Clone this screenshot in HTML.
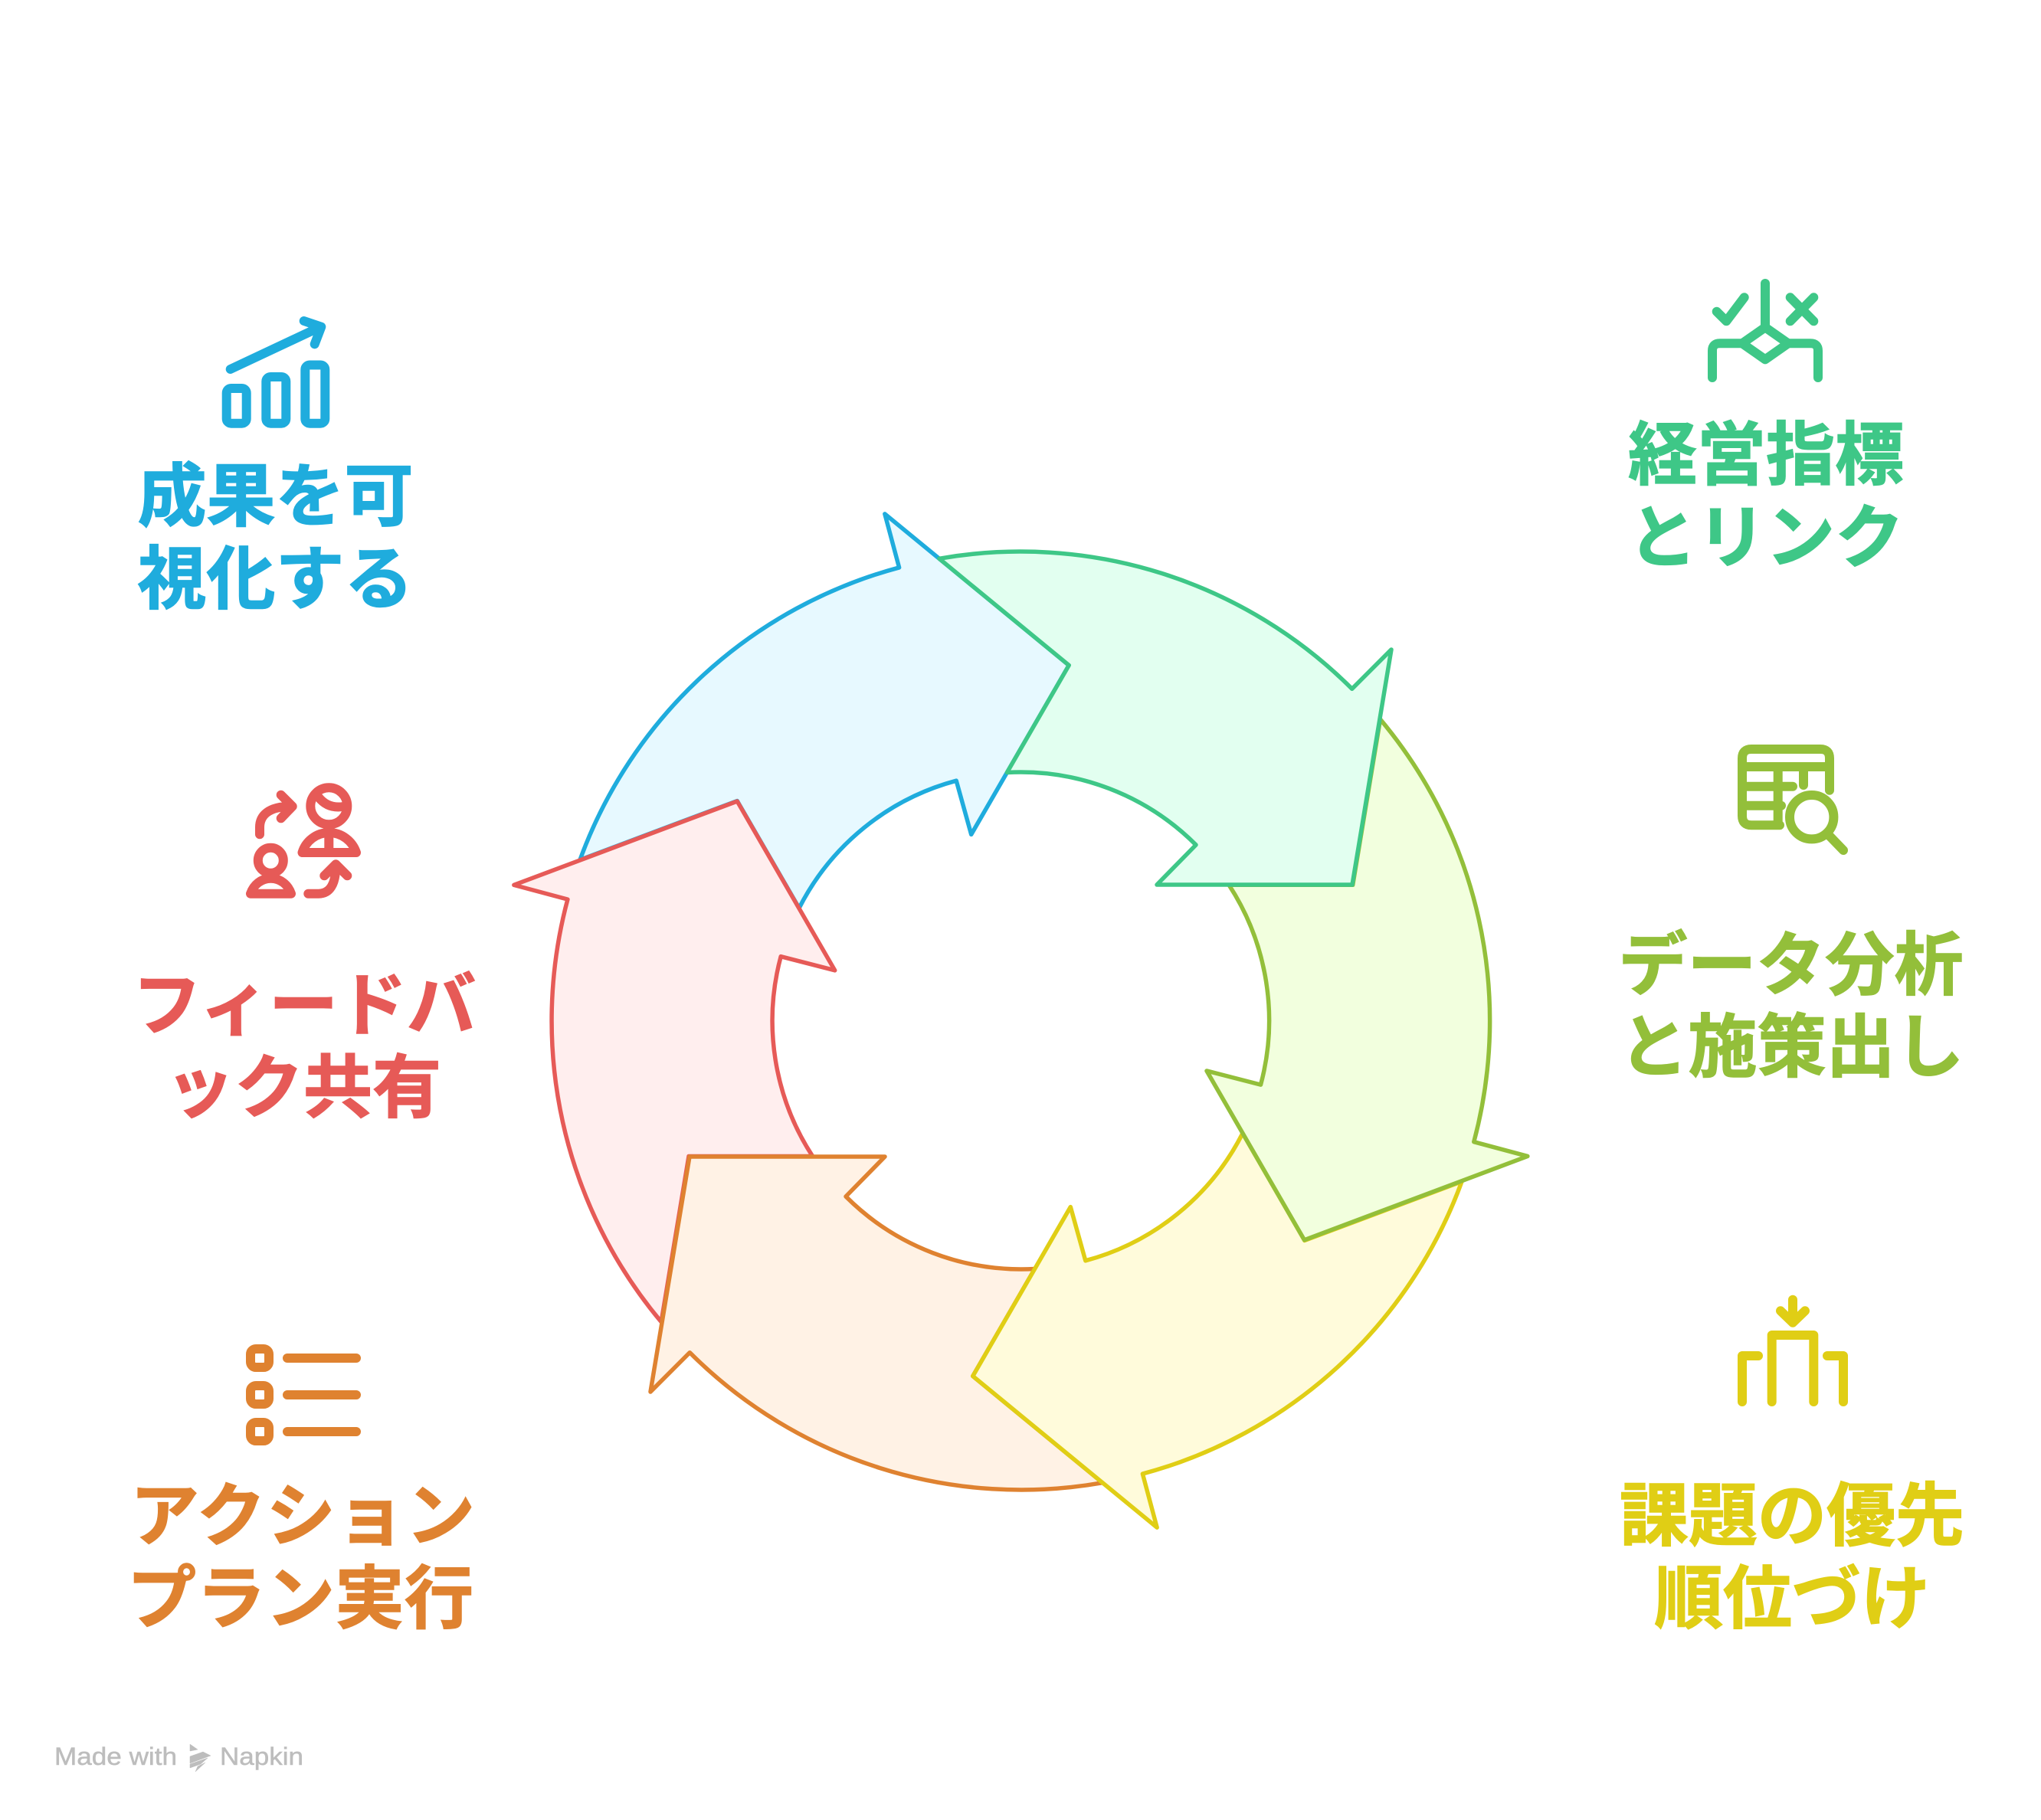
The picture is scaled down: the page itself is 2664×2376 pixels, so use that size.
<!DOCTYPE html>
<html lang="ja">
<head>
<meta charset="utf-8">
<title>Cycle diagram</title>
<style>
html,body{margin:0;padding:0;background:#fff;width:2664px;height:2376px;overflow:hidden}
svg{display:block}
.t{font-family:"Liberation Sans","Noto Sans CJK JP",sans-serif;font-weight:700;font-size:90px;text-anchor:middle;stroke-width:1.4;stroke-linejoin:miter}
.i{fill:none;stroke-width:12;stroke-linecap:round;stroke-linejoin:round}
.a{stroke-width:5.5;stroke-linejoin:round}
</style>
</head>
<body>
<svg xmlns="http://www.w3.org/2000/svg" width="2664" height="2376" viewBox="0 0 2664 2376">
<rect width="2664" height="2376" fill="#fff"/>

<!-- arrows, bottom to top -->
<path class="a" transform="rotate(300 1332 1332)" fill="#E7F9FF" stroke="#1FACDD" d="M1225.9 729.3A612 612 0 0 1 1764.7 899.3L1816 848L1765 1155L1510 1155L1561 1103A324 324 0 0 0 1314.4 1008.5L1395.2 868.5Z"/>
<path class="a" transform="translate(0 0.5) rotate(240 1332 1332)" fill="#FFEEEE" stroke="#E65A57" d="M1225.9 729.3A612 612 0 0 1 1764.7 899.3L1816 848L1765 1155L1510 1155L1561 1103A324 324 0 0 0 1314.4 1008.5L1395.2 868.5Z"/>
<path class="a" transform="translate(1 1) rotate(180 1332 1332)" fill="#FFF2E5" stroke="#DF8230" d="M1225.9 729.3A612 612 0 0 1 1764.7 899.3L1816 848L1765 1155L1510 1155L1561 1103A324 324 0 0 0 1314.4 1008.5L1395.2 868.5Z"/>
<path class="a" transform="translate(1 1) rotate(120 1332 1332)" fill="#FFFBDB" stroke="#E0CE15" d="M1225.9 729.3A612 612 0 0 1 1764.7 899.3L1816 848L1765 1155L1510 1155L1561 1103A324 324 0 0 0 1314.4 1008.5L1395.2 868.5Z"/>
<path class="a" transform="translate(0.7 0.3) rotate(60 1332 1332)" fill="#F2FFDE" stroke="#93BF3A" d="M1225.9 729.3A612 612 0 0 1 1764.7 899.3L1816 848L1765 1155L1510 1155L1561 1103A324 324 0 0 0 1314.4 1008.5L1395.2 868.5Z"/>
<path class="a" fill="#E2FFF0" stroke="#3EC787" d="M1225.9 729.3A612 612 0 0 1 1764.7 899.3L1816 848L1765 1155L1510 1155L1561 1103A324 324 0 0 0 1314.4 1008.5L1395.2 868.5Z"/>

<!-- green -->
<g class="i" stroke="#3EC787">
<path d="M2304 370V427"/>
<path d="M2240.7 406.7L2253.3 419.3L2276.7 388.3"/>
<path d="M2336.7 388.3L2367.3 419.3M2367.3 388.3L2336.7 419.3"/>
<path d="M2274 448.3L2304 427.3L2334 448.3L2304 469.3Z"/>
<path d="M2274 448.3H2245Q2235 448.3 2235 458V493"/>
<path d="M2334 448.3H2363Q2373 448.3 2373 458V493"/>
</g>
<text class="t" fill="#3EC787" stroke="#3EC787" x="2305" y="625">経営指標</text>
<text class="t" fill="#3EC787" stroke="#3EC787" x="2305" y="733">とリンク</text>

<!-- lime -->
<g class="i" stroke="#93BF3A">
<path d="M2388 1031.7V990Q2388 978 2376 978H2286Q2274 978 2274 990V1065Q2274 1077.3 2286 1077.3H2323"/>
<path d="M2274 1001H2388M2274 1026.7H2340M2274 1051.7H2325M2320.7 1001V1077M2354 1001V1025"/>
<circle cx="2364.7" cy="1066.7" r="28.7"/>
<path d="M2388.3 1091.7L2406 1110"/>
</g>
<text class="t" fill="#93BF3A" stroke="#93BF3A" x="2337.5" y="1291">データ分析</text>
<text class="t" fill="#93BF3A" stroke="#93BF3A" x="2338.5" y="1398">と施策出し</text>

<!-- yellow -->
<g class="i" stroke="#E0CE15">
<path d="M2340 1696.7V1726.7M2324 1711.3L2340 1726.7L2356 1711.3"/>
<path d="M2312.7 1830V1743H2367.3V1830"/>
<path d="M2274 1830V1770H2295M2406 1830V1770H2385"/>
</g>
<text class="t" fill="#E0CE15" stroke="#E0CE15" x="2339" y="2010">課題の優先</text>
<text class="t" fill="#E0CE15" stroke="#E0CE15" x="2339" y="2118">順位づけ</text>

<!-- blue -->
<g class="i" stroke="#1FACDD">
<path d="M300.7 482L418.3 426.7M396.7 419L419.3 426.7L410.7 449.3"/>
<rect x="295.7" y="507" width="26" height="45.7" rx="6"/>
<rect x="347.3" y="492" width="26" height="60.7" rx="6"/>
<rect x="398.3" y="476.5" width="26" height="76.2" rx="6"/>
</g>
<text class="t" fill="#1FACDD" stroke="#1FACDD" x="359.5" y="679">成果を可</text>
<text class="t" fill="#1FACDD" stroke="#1FACDD" x="359.5" y="787">視化する</text>

<!-- red -->
<g class="i" stroke="#E65A57">
<circle cx="429.3" cy="1052.3" r="24"/>
<path d="M416 1041Q428 1056 448 1053"/>
<path d="M394.5 1113H465C460 1098 446 1087 429.5 1087C413 1087 399 1098 394.5 1113Z"/>
<path d="M429.3 1093V1113"/>
<circle cx="353.3" cy="1123.3" r="16.5"/>
<path d="M327 1166.7H380C376 1155 366 1146.7 353.5 1146.7C341 1146.7 331 1155 327 1166.7Z"/>
<path d="M339 1089.3V1080C339 1065 350 1052.7 380 1052.7M366.7 1037.7L381.7 1052.7L366.7 1068.3"/>
<path d="M402.3 1166.7H416C430 1166.7 438.3 1155 438.3 1130M423.3 1143.3L438.3 1128.3L453.3 1143.3"/>
</g>
<text class="t" fill="#E65A57" stroke="#E65A57" x="397" y="1343.5">フィードバ</text>
<text class="t" fill="#E65A57" stroke="#E65A57" x="396" y="1451">ック共有</text>

<!-- orange -->
<g class="i" stroke="#DF8230">
<rect x="327" y="1761" width="24" height="24" rx="7"/>
<rect x="327" y="1809" width="24" height="24" rx="7"/>
<rect x="327" y="1857" width="24" height="24" rx="7"/>
<path d="M375 1773H465M375 1821H465M375 1869H465"/>
</g>
<text class="t" fill="#DF8230" stroke="#DF8230" x="395" y="2010" textLength="450" lengthAdjust="spacing">アクション</text>
<text class="t" fill="#DF8230" stroke="#DF8230" x="392" y="2118" textLength="452" lengthAdjust="spacing">プラン実行</text>

<!-- watermark -->
<g fill="#BDBDBD" stroke="#BDBDBD" stroke-width="0.5">
<text x="71" y="2304" font-family="'Liberation Sans',sans-serif" font-size="32" textLength="160" lengthAdjust="spacingAndGlyphs">Made with</text>
<text x="287" y="2304" font-family="'Liberation Sans',sans-serif" font-size="32" textLength="109" lengthAdjust="spacingAndGlyphs">Napkin</text>
<polygon points="248,2277 258,2284 248,2286"/>
<polygon points="248,2293 265,2287 275,2292 248,2302"/>
<polygon points="248,2303 271,2295 262,2303 248,2308"/>
<polygon points="255,2313 258,2306 268,2301"/>
</g>
</svg>
</body>
</html>
